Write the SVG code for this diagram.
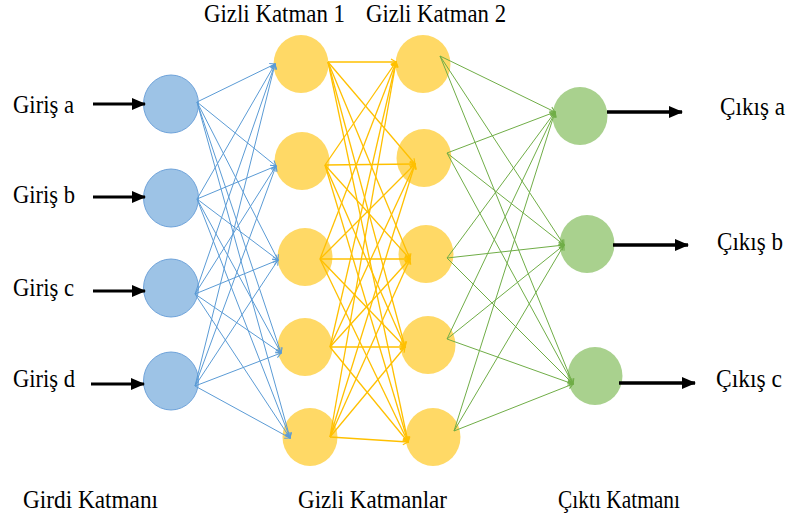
<svg xmlns="http://www.w3.org/2000/svg" width="788" height="519" viewBox="0 0 788 519">
<defs>
<style>
.lbl{font-family:"Liberation Serif","Times New Roman","DejaVu Serif",serif;font-size:23px;fill:#000}
.in{fill:#9DC3E6;stroke:#6FA3DA;stroke-width:1}
.hid{fill:#FFD966}
.out{fill:#A9D18E}
.cb{stroke:#5B9BD5;stroke-width:1;fill:none;marker-end:url(#mb)}
.cy{stroke:#FFC000;stroke-width:1.3;fill:none;marker-end:url(#my)}
.cg{stroke:#70AD47;stroke-width:1;fill:none;marker-end:url(#mg)}
.arr{stroke:#000;stroke-width:3;fill:none;marker-end:url(#big)}
</style>
<marker id="mb" markerUnits="userSpaceOnUse" markerWidth="8" markerHeight="8" refX="5" refY="3" orient="auto" overflow="visible"><path d="M0,0 L5,3 L0,6" fill="none" stroke="#5B9BD5" stroke-width="1"/></marker>
<marker id="my" markerUnits="userSpaceOnUse" markerWidth="8" markerHeight="8" refX="5" refY="3" orient="auto" overflow="visible"><path d="M0,0 L5,3 L0,6" fill="none" stroke="#FFC000" stroke-width="1.2"/></marker>
<marker id="mg" markerUnits="userSpaceOnUse" markerWidth="8" markerHeight="8" refX="5" refY="3" orient="auto" overflow="visible"><path d="M0,0 L5,3 L0,6" fill="none" stroke="#70AD47" stroke-width="1"/></marker>
<marker id="big" markerUnits="userSpaceOnUse" markerWidth="14" markerHeight="12" refX="13" refY="6" orient="auto"><path d="M0,0 L14,6 L0,12 z" fill="#000"/></marker>
</defs>
<rect width="788" height="519" fill="#fff"/>

<g id="labels">
<text class="lbl" transform="translate(204,22) scale(1,1.1)" x="0" y="0" textLength="141" lengthAdjust="spacingAndGlyphs">Gizli Katman 1</text>
<text class="lbl" transform="translate(366,22) scale(1,1.1)" x="0" y="0" textLength="140" lengthAdjust="spacingAndGlyphs">Gizli Katman 2</text>
<text class="lbl" transform="translate(23,508) scale(1,1.1)" x="0" y="0" textLength="135" lengthAdjust="spacingAndGlyphs">Girdi Katmanı</text>
<text class="lbl" transform="translate(298,508) scale(1,1.1)" x="0" y="0" textLength="149" lengthAdjust="spacingAndGlyphs">Gizli Katmanlar</text>
<text class="lbl" transform="translate(558,508) scale(1,1.1)" x="0" y="0" textLength="122" lengthAdjust="spacingAndGlyphs">Çıktı Katmanı</text>
</g>

<g id="input-a"><ellipse class="in" cx="171" cy="104" rx="27.5" ry="29"/><text class="lbl" transform="translate(13,113) scale(1,1.1)" x="0" y="0" textLength="61" lengthAdjust="spacingAndGlyphs">Giriş a</text></g>
<g id="input-b"><ellipse class="in" cx="171" cy="198" rx="27.5" ry="29"/><text class="lbl" transform="translate(13,203) scale(1,1.1)" x="0" y="0" textLength="62" lengthAdjust="spacingAndGlyphs">Giriş b</text></g>
<g id="input-c"><ellipse class="in" cx="171" cy="288" rx="27.5" ry="29"/><text class="lbl" transform="translate(13,296) scale(1,1.1)" x="0" y="0" textLength="61" lengthAdjust="spacingAndGlyphs">Giriş c</text></g>
<g id="input-d"><ellipse class="in" cx="171" cy="381" rx="27.5" ry="29"/><text class="lbl" transform="translate(13,387) scale(1,1.1)" x="0" y="0" textLength="62" lengthAdjust="spacingAndGlyphs">Giriş d</text></g>

<g id="h1-1"><ellipse class="hid" cx="301" cy="64" rx="27.5" ry="29"/></g>
<g id="h1-2"><ellipse class="hid" cx="302" cy="161" rx="27.5" ry="29"/></g>
<g id="h1-3"><ellipse class="hid" cx="305" cy="257" rx="27.5" ry="29"/></g>
<g id="h1-4"><ellipse class="hid" cx="305" cy="347" rx="27.5" ry="29"/></g>
<g id="h1-5"><ellipse class="hid" cx="310" cy="437" rx="27.5" ry="29"/></g>

<g id="h2-1"><ellipse class="hid" cx="423" cy="64" rx="27.5" ry="29"/></g>
<g id="h2-2"><ellipse class="hid" cx="424" cy="158" rx="27.5" ry="29"/></g>
<g id="h2-3"><ellipse class="hid" cx="426" cy="254" rx="27.5" ry="29"/></g>
<g id="h2-4"><ellipse class="hid" cx="428" cy="345" rx="27.5" ry="29"/></g>
<g id="h2-5"><ellipse class="hid" cx="433" cy="437" rx="27.5" ry="29"/></g>

<g id="output-a"><ellipse class="out" cx="580" cy="116" rx="27.5" ry="29"/><text class="lbl" transform="translate(720,115) scale(1,1.1)" x="0" y="0" textLength="65" lengthAdjust="spacingAndGlyphs">Çıkış a</text></g>
<g id="output-b"><ellipse class="out" cx="587" cy="244" rx="27.5" ry="29"/><text class="lbl" transform="translate(717,250) scale(1,1.1)" x="0" y="0" textLength="66" lengthAdjust="spacingAndGlyphs">Çıkış b</text></g>
<g id="output-c"><ellipse class="out" cx="595" cy="376" rx="27.5" ry="29"/><text class="lbl" transform="translate(716,387) scale(1,1.1)" x="0" y="0" textLength="66" lengthAdjust="spacingAndGlyphs">Çıkış c</text></g>

<g id="connectors">
<line class="arr" x1="93" y1="104" x2="145" y2="104"/>
<line class="arr" x1="93" y1="197" x2="145" y2="197"/>
<line class="arr" x1="93" y1="291" x2="145" y2="291"/>
<line class="arr" x1="91" y1="384" x2="144" y2="384"/>
<line class="arr" style="stroke-width:3.5" x1="607" y1="112" x2="682" y2="112"/>
<line class="arr" style="stroke-width:3.5" x1="613" y1="245" x2="688" y2="245"/>
<line class="arr" style="stroke-width:3.5" x1="619" y1="383" x2="695" y2="383"/>

<line class="cb" x1="197" y1="102" x2="275" y2="64"/>
<line class="cb" x1="197" y1="102" x2="276" y2="166"/>
<line class="cb" x1="197" y1="102" x2="278" y2="260"/>
<line class="cb" x1="197" y1="102" x2="281" y2="353"/>
<line class="cb" x1="197" y1="102" x2="290" y2="438"/>
<line class="cb" x1="197" y1="199" x2="275" y2="64"/>
<line class="cb" x1="197" y1="199" x2="276" y2="166"/>
<line class="cb" x1="197" y1="199" x2="278" y2="260"/>
<line class="cb" x1="197" y1="199" x2="281" y2="353"/>
<line class="cb" x1="197" y1="199" x2="290" y2="438"/>
<line class="cb" x1="195" y1="294" x2="275" y2="64"/>
<line class="cb" x1="195" y1="294" x2="276" y2="166"/>
<line class="cb" x1="195" y1="294" x2="278" y2="260"/>
<line class="cb" x1="195" y1="294" x2="281" y2="353"/>
<line class="cb" x1="195" y1="294" x2="290" y2="438"/>
<line class="cb" x1="195" y1="386" x2="275" y2="64"/>
<line class="cb" x1="195" y1="386" x2="276" y2="166"/>
<line class="cb" x1="195" y1="386" x2="278" y2="260"/>
<line class="cb" x1="195" y1="386" x2="281" y2="353"/>
<line class="cb" x1="195" y1="386" x2="290" y2="438"/>

<line class="cy" x1="328" y1="62" x2="396" y2="62"/>
<line class="cy" x1="328" y1="62" x2="415" y2="164"/>
<line class="cy" x1="328" y1="62" x2="410" y2="259"/>
<line class="cy" x1="328" y1="62" x2="405" y2="347"/>
<line class="cy" x1="328" y1="62" x2="408" y2="442"/>
<line class="cy" x1="325" y1="165" x2="396" y2="62"/>
<line class="cy" x1="325" y1="165" x2="415" y2="164"/>
<line class="cy" x1="325" y1="165" x2="410" y2="259"/>
<line class="cy" x1="325" y1="165" x2="405" y2="347"/>
<line class="cy" x1="325" y1="165" x2="408" y2="442"/>
<line class="cy" x1="320" y1="259" x2="396" y2="62"/>
<line class="cy" x1="320" y1="259" x2="415" y2="164"/>
<line class="cy" x1="320" y1="259" x2="410" y2="259"/>
<line class="cy" x1="320" y1="259" x2="405" y2="347"/>
<line class="cy" x1="320" y1="259" x2="408" y2="442"/>
<line class="cy" x1="330" y1="347" x2="396" y2="62"/>
<line class="cy" x1="330" y1="347" x2="415" y2="164"/>
<line class="cy" x1="330" y1="347" x2="410" y2="259"/>
<line class="cy" x1="330" y1="347" x2="405" y2="347"/>
<line class="cy" x1="330" y1="347" x2="408" y2="442"/>
<line class="cy" x1="330" y1="437" x2="396" y2="62"/>
<line class="cy" x1="330" y1="437" x2="415" y2="164"/>
<line class="cy" x1="330" y1="437" x2="410" y2="259"/>
<line class="cy" x1="330" y1="437" x2="405" y2="347"/>
<line class="cy" x1="330" y1="437" x2="408" y2="442"/>

<line class="cg" x1="440" y1="56" x2="555" y2="112"/>
<line class="cg" x1="440" y1="56" x2="564" y2="245"/>
<line class="cg" x1="440" y1="56" x2="573" y2="384"/>
<line class="cg" x1="447" y1="153" x2="555" y2="112"/>
<line class="cg" x1="447" y1="153" x2="564" y2="245"/>
<line class="cg" x1="447" y1="153" x2="573" y2="384"/>
<line class="cg" x1="447" y1="258" x2="555" y2="112"/>
<line class="cg" x1="447" y1="258" x2="564" y2="245"/>
<line class="cg" x1="447" y1="258" x2="573" y2="384"/>
<line class="cg" x1="447" y1="339" x2="555" y2="112"/>
<line class="cg" x1="447" y1="339" x2="564" y2="245"/>
<line class="cg" x1="447" y1="339" x2="573" y2="384"/>
<line class="cg" x1="454" y1="431" x2="555" y2="112"/>
<line class="cg" x1="454" y1="431" x2="564" y2="245"/>
<line class="cg" x1="454" y1="431" x2="573" y2="384"/>
</g>
</svg>
